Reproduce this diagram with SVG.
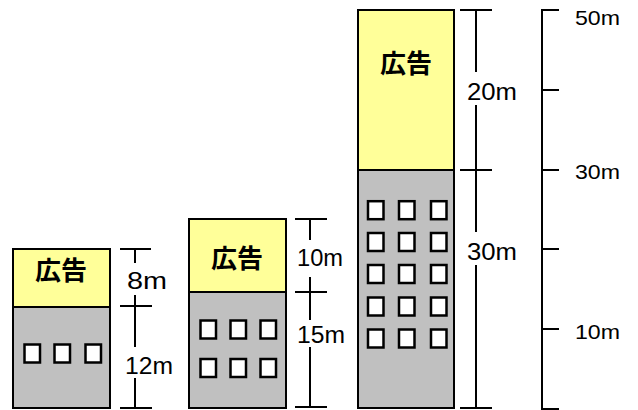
<svg xmlns="http://www.w3.org/2000/svg" width="638" height="410" viewBox="0 0 638 410">
<style>
.ad{fill:#FFFF99;stroke:#000;stroke-width:2}
.body{fill:#C0C0C0;stroke:#000;stroke-width:2}
.win{fill:#fff;stroke:#000;stroke-width:2.5}
.ln{stroke:#000;stroke-width:2;fill:none}
.ad-t{font-family:"Noto Sans CJK JP",sans-serif;font-weight:bold;font-size:26px;text-anchor:middle;fill:#000}
.dim-t{font-family:"Liberation Sans","Noto Sans CJK JP",sans-serif;font-size:23px;fill:#000}
.sc-t{font-family:"Liberation Sans","Noto Sans CJK JP",sans-serif;font-size:21px;fill:#000}
</style>
<rect width="638" height="410" fill="#fff"/>
<g id="building1">
<rect class="body" x="13" y="307" width="97" height="101"/>
<rect class="ad" x="13" y="249" width="97" height="58"/>
<text class="ad-t" x="61" y="280">広告</text>
<rect class="win" x="24.5" y="344.5" width="15.5" height="18"/>
<rect class="win" x="54.5" y="344.5" width="15.5" height="18"/>
<rect class="win" x="85.5" y="344.5" width="15.5" height="18"/>
</g>
<g id="building2">
<rect class="body" x="189" y="292" width="97" height="116"/>
<rect class="ad" x="189" y="219" width="97" height="73"/>
<text class="ad-t" x="237" y="268">広告</text>
<rect class="win" x="200.5" y="320.5" width="15.5" height="18"/>
<rect class="win" x="230.5" y="320.5" width="15.5" height="18"/>
<rect class="win" x="260.5" y="320.5" width="15.5" height="18"/>
<rect class="win" x="200.5" y="359" width="15.5" height="18"/>
<rect class="win" x="230.5" y="359" width="15.5" height="18"/>
<rect class="win" x="260.5" y="359" width="15.5" height="18"/>
</g>
<g id="building3">
<rect class="body" x="358" y="170" width="96" height="238"/>
<rect class="ad" x="358" y="10" width="96" height="160"/>
<text class="ad-t" x="406" y="73">広告</text>
<g id="windows3">
<rect class="win" x="368" y="201.2" width="15.5" height="18"/>
<rect class="win" x="399" y="201.2" width="15.5" height="18"/>
<rect class="win" x="431" y="201.2" width="15.5" height="18"/>
<rect class="win" x="368" y="233" width="15.5" height="18"/>
<rect class="win" x="399" y="233" width="15.5" height="18"/>
<rect class="win" x="431" y="233" width="15.5" height="18"/>
<rect class="win" x="368" y="265" width="15.5" height="18"/>
<rect class="win" x="399" y="265" width="15.5" height="18"/>
<rect class="win" x="431" y="265" width="15.5" height="18"/>
<rect class="win" x="368" y="297.5" width="15.5" height="18"/>
<rect class="win" x="399" y="297.5" width="15.5" height="18"/>
<rect class="win" x="431" y="297.5" width="15.5" height="18"/>
<rect class="win" x="368" y="329.5" width="15.5" height="18"/>
<rect class="win" x="399" y="329.5" width="15.5" height="18"/>
<rect class="win" x="431" y="329.5" width="15.5" height="18"/>
</g>
</g>
<g id="connectors">
<g id="dim1">
<path class="ln" d="M120 249H151M120 306H152M120 408H152M135 249V263M135 295V347M135 378V408"/>
<text class="dim-t" x="127" y="289" textLength="40" lengthAdjust="spacingAndGlyphs">8m</text>
<text class="dim-t" x="125" y="374" textLength="48" lengthAdjust="spacingAndGlyphs">12m</text>
</g>
<g id="dim2">
<path class="ln" d="M295 219H327M295 292H327M295 407H327M310 219V240M310 277V320M310 347V407"/>
<text class="dim-t" x="297" y="266" textLength="46" lengthAdjust="spacingAndGlyphs">10m</text>
<text class="dim-t" x="297" y="343" textLength="48" lengthAdjust="spacingAndGlyphs">15m</text>
</g>
<g id="dim3">
<path class="ln" d="M460 10H492M460 170H492M460 408H492M476 10V72M476 105V232M476 265V408"/>
<text class="dim-t" x="467" y="100" textLength="50" lengthAdjust="spacingAndGlyphs">20m</text>
<text class="dim-t" x="467" y="260" textLength="50" lengthAdjust="spacingAndGlyphs">30m</text>
</g>
<g id="scale">
<path class="ln" d="M559 10H542V409H559M542 90H559M542 170H559M542 249H559M542 329H559"/>
<text class="sc-t" x="575" y="25" textLength="45" lengthAdjust="spacingAndGlyphs">50m</text>
<text class="sc-t" x="575" y="179" textLength="45" lengthAdjust="spacingAndGlyphs">30m</text>
<text class="sc-t" x="575" y="339" textLength="45" lengthAdjust="spacingAndGlyphs">10m</text>
</g>
</g>
</svg>
